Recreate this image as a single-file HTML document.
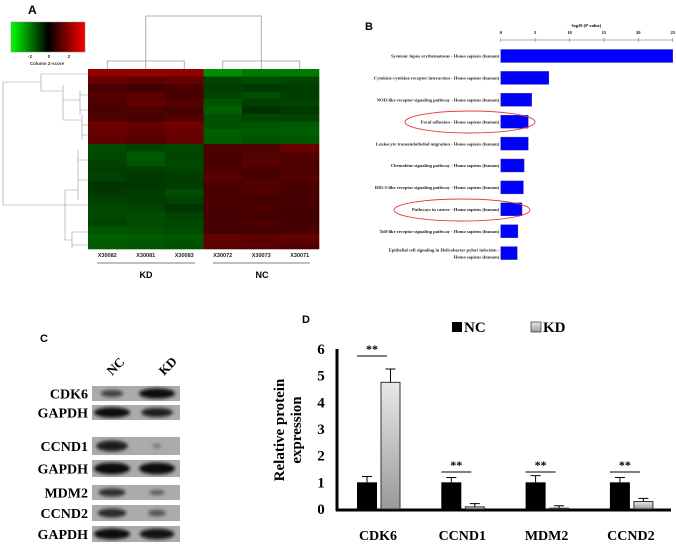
<!DOCTYPE html>
<html><head><meta charset="utf-8"><style>
body{margin:0;background:#fff;width:676px;height:547px;overflow:hidden}
svg{display:block}
.serif{font-family:"Liberation Serif",serif;font-weight:bold}
.sans{font-family:"Liberation Sans",sans-serif;font-weight:bold}
</style></head><body>
<svg id="fig" width="676" height="547" viewBox="0 0 676 547">
<defs>
<linearGradient id="zkey" x1="0" x2="1"><stop offset="0" stop-color="#00ff00"/><stop offset="0.5" stop-color="#000"/><stop offset="1" stop-color="#ff0000"/></linearGradient>
<linearGradient id="kdgrad" x1="0" x2="0" y1="0" y2="1"><stop offset="0" stop-color="#e8e8e8"/><stop offset="1" stop-color="#9a9a9a"/></linearGradient>
<filter id="blur" x="-30%" y="-60%" width="160%" height="220%"><feGaussianBlur stdDeviation="1.6"/></filter>
</defs>
<g id="panelA">
<text x="28" y="14" class="sans" font-size="12">A</text>
<rect x="11" y="22" width="74" height="30" fill="url(#zkey)" stroke="#888" stroke-width="0.5"/>
<g class="sans" font-size="4.5" fill="#333" text-anchor="middle">
<text x="30" y="58">-2</text><text x="49" y="58">0</text><text x="69" y="58">2</text>
<text x="47" y="65">Column Z-score</text></g>
<g id="coldendro" stroke="#999" stroke-width="0.8" fill="none"></g>
<g id="rowdendro" stroke="#999" stroke-width="0.6" fill="none"></g>
<g id="heat"></g>
<g id="heatlabels" class="sans" font-size="5.5" fill="#222" text-anchor="middle"></g>
<line x1="97" y1="263" x2="195" y2="263" stroke="#555" stroke-width="0.8"/>
<line x1="213" y1="263" x2="310" y2="263" stroke="#555" stroke-width="0.8"/>
<text x="146" y="278" class="sans" font-size="9" text-anchor="middle">KD</text>
<text x="262" y="278" class="sans" font-size="9" text-anchor="middle">NC</text>
</g>
<g id="panelB">
<text x="365" y="30" class="sans" font-size="11">B</text>
<text x="586" y="27" class="serif" font-size="4.5" text-anchor="middle">-log10 (P-value)</text>
<g id="bAxis"></g>
<g id="bBars"></g>
<ellipse cx="470" cy="122" rx="65" ry="11" fill="none" stroke="#e24040" stroke-width="0.9"/>
<ellipse cx="462" cy="210" rx="68" ry="11" fill="none" stroke="#e24040" stroke-width="0.9"/>
</g>
<g id="panelC">
<text x="40" y="342" class="sans" font-size="11">C</text>
<text class="serif" font-size="13" transform="translate(112,376) rotate(-45)">NC</text>
<text class="serif" font-size="13" transform="translate(164,376) rotate(-45)">KD</text>
<g id="blots"></g>
</g>
<g id="panelD">
<text x="302" y="323" class="sans" font-size="11">D</text>
<rect x="452" y="322" width="10" height="10" fill="#000"/>
<text x="464" y="332" class="serif" font-size="15">NC</text>
<rect x="531" y="322" width="10" height="10" fill="url(#kdgrad)" stroke="#444" stroke-width="0.8"/>
<text x="543" y="332" class="serif" font-size="15">KD</text>
<text class="serif" font-size="15" text-anchor="middle" transform="translate(284,430) rotate(-90)"><tspan x="0" y="0">Relative protein</tspan><tspan x="0" y="17">expression</tspan></text>
<g id="dChart"></g>
</g>
</svg>
<script>
// ---------- Panel A data ----------
const sampleLabels = ["X30082","X30081","X30083","X30072","X30073","X30071"];
// row z-scores (KD cols 1-3, NC cols 4-6), top to bottom
const heatRows = [
 [2.4,2.4,2.4,-2.6,-2.2,-2.2],
 [1.6,1.4,1.5,-1.0,-1.2,-1.1],
 [1.0,0.9,1.1,-0.9,-0.8,-0.9],
 [1.2,1.4,1.0,-1.0,-1.2,-0.9],
 [1.1,1.5,1.2,-1.4,-0.9,-1.0],
 [1.0,1.1,1.0,-1.6,-0.6,-0.8],
 [1.1,1.0,1.2,-1.3,-1.1,-1.0],
 [1.7,1.5,1.8,-1.3,-1.4,-1.5],
 [1.6,1.4,1.6,-1.6,-1.5,-1.6],
 [1.4,1.2,1.5,-1.5,-1.3,-1.4],
 [-1.2,-1.0,-1.1,1.1,1.1,1.6],
 [-1.1,-1.5,-1.0,1.0,1.2,1.2],
 [-1.0,-1.4,-1.1,1.0,1.3,1.1],
 [-0.9,-0.9,-1.0,1.1,1.0,1.1],
 [-1.0,-0.8,-0.9,1.3,1.0,1.2],
 [-0.7,-0.8,-0.9,1.0,1.2,1.0],
 [-0.8,-0.9,-1.2,1.0,1.1,1.0],
 [-1.0,-0.9,-1.0,1.0,0.9,1.0],
 [-1.1,-1.0,-0.7,1.0,1.0,0.9],
 [-1.1,-1.2,-1.0,0.9,0.9,0.9],
 [-1.0,-1.2,-1.1,1.0,1.1,0.9],
 [-1.4,-1.3,-1.2,0.9,1.0,1.0],
 [-1.6,-1.5,-1.4,1.5,1.4,1.5],
 [-1.5,-1.4,-1.3,1.4,1.3,1.2]
];
// ---------- Panel B data ----------
const pathways = ["Systemic lupus erythematosus - Homo sapiens (human)","Cytokine-cytokine receptor interaction - Homo sapiens (human)","NOD-like receptor signaling pathway - Homo sapiens (human)","Focal adhesion - Homo sapiens (human)","Leukocyte transendothelial migration - Homo sapiens (human)","Chemokine signaling pathway - Homo sapiens (human)","RIG-I-like receptor signaling pathway - Homo sapiens (human)","Pathways in cancer - Homo sapiens (human)","Toll-like receptor signaling pathway - Homo sapiens (human)","Epithelial cell signaling in Helicobacter pylori infection -|Homo sapiens (human)"];
const pathwayValues = [25,7.0,4.5,4.0,4.0,3.4,3.3,3.1,2.5,2.4];
const pathwayTicks = [0,5,10,15,20,25];
// ---------- Panel C data ----------
const blotLabels = ["CDK6","GAPDH","CCND1","GAPDH","MDM2","CCND2","GAPDH"];
const blotNC = [0.55,1.0,0.85,1.0,0.7,0.75,1.0];
const blotKD = [1.0,0.85,0.1,1.0,0.3,0.4,0.95];
// ---------- Panel D data ----------
const genes = ["CDK6","CCND1","MDM2","CCND2"];
const ncValues = [1,1,1,1];
const ncErr = [0.22,0.18,0.25,0.18];
const kdValues = [4.75,0.08,0.03,0.28];
const kdErr = [0.5,0.12,0.09,0.12];
const yTicks = [0,1,2,3,4,5,6];

const NS="http://www.w3.org/2000/svg";
function mk(tag,attrs,parent){const e=document.createElementNS(NS,tag);for(const k in attrs)e.setAttribute(k,attrs[k]);parent.appendChild(e);return e;}

// Panel A heatmap
(function(){
 const g=document.getElementById('heat');
 const x0=88,x1=319,y0=69,y1=249;
 const cw=(x1-x0)/sampleLabels.length, rh=(y1-y0)/heatRows.length;
 function col(z){const t=Math.max(-3,Math.min(3,z))/3;
  if(t>=0)return `rgb(${Math.round(20+255*t*0.62)},0,0)`;return `rgb(0,${Math.round(20-255*t*0.55)},0)`;}
 heatRows.forEach((row,i)=>row.forEach((z,j)=>{
  const r=mk('rect',{x:x0+j*cw,y:y0+i*rh,width:cw+0.3,height:rh+0.3,fill:col(z)},g);
  
  
 }));
 const lg=document.getElementById('heatlabels');
 sampleLabels.forEach((s,j)=>{const t=mk('text',{x:x0+(j+0.5)*cw,y:257},lg);t.textContent=s;
  
  });
 const cd=document.getElementById('coldendro');
 const cx=j=>x0+(j+0.5)*cw;
 mk('path',{d:`M${cx(0)},69V61H${cx(2)}V69 M${cx(1)},61V69 M${cx(3)},69V61H${cx(5)}V69 M${cx(4)},61V69 M${(cx(0)+cx(2))/2},61V16H${(cx(3)+cx(5))/2}V61`},cd);
 const rd=document.getElementById('rowdendro');
 mk('path',{d:"M41,74V91 M41,82H3V205H65 M41,74H60 M41,91H63 M65,190V240 M65,205H88 M65,190H78 M65,240H72 M63,85V120 M60,74H88 M63,100H80 M72,232H88 M72,245H88 M72,232V248 M78,150V200 M78,160H88 M78,180H88 M80,90V115 M80,95H88 M80,110H88 M63,120H82 M82,115V140 M82,125H88 M82,135H88"},rd);
})();

// Panel B
(function(){
 const x0=500.7,x1=672.7,vmax=25;
 const sx=v=>x0+(x1-x0)*v/vmax;
 const ax=document.getElementById('bAxis');
 mk('line',{x1:x0,y1:40,x2:x1,y2:40,stroke:'#666','stroke-width':0.6},ax);
 pathwayTicks.forEach(t=>{mk('line',{x1:sx(t),y1:38,x2:sx(t),y2:42,stroke:'#666','stroke-width':0.5},ax);
  const tx=mk('text',{x:sx(t),y:34,'font-size':4.5,'text-anchor':'middle',class:'serif'},ax);tx.textContent=t;});
 const g=document.getElementById('bBars');
 pathwayValues.forEach((v,i)=>{const yc=56+i*21.9;
  const r=mk('rect',{x:x0,y:yc-6.5,width:sx(v)-x0,height:13,fill:'#0000ff',stroke:'#3a3a8a','stroke-width':0.4},g);
  
  
  const parts=pathways[i].split('|');
  parts.forEach((p,k)=>{const t=mk('text',{x:x0-1.5,y:yc+1.7+(parts.length>1?(k-0.5)*7:0),'font-size':4.6,'text-anchor':'end',class:'serif',fill:'#222'},g);t.textContent=p;
   
   });
 });
})();

// Panel C
(function(){
 const g=document.getElementById('blots');
 const rows=[[386,401],[405,420],[437,455],[460,477],[485,500],[505,521],[526,542]];
 blotLabels.forEach((lab,i)=>{const [a,b]=rows[i];
  const bg=mk('rect',{x:92,y:a,width:88,height:b-a,fill:'#ababab'},g);
  
  
  const h=(b-a);
  [[112,blotNC[i]],[157,blotKD[i]]].forEach(([cx,s])=>{
   mk('ellipse',{cx:cx,cy:(a+b)/2,rx:3+15*s,ry:h*(0.1+0.24*s),fill:'#0a0a0a',opacity:0.25+0.75*s,filter:'url(#blur)'},g);});
  const t=mk('text',{x:88,y:(a+b)/2+5,'font-size':14,'text-anchor':'end',class:'serif'},g);t.textContent=lab;
  
  
 });
})();

// Panel D
(function(){
 const g=document.getElementById('dChart');
 const ax=337,ay0=509,ay1=349,axEnd=671,ymax=6;
 const sy=v=>ay0-(ay0-ay1)*v/ymax;
 const gx=i=>367+i*84.3;
 mk('line',{x1:ax,y1:ay1,x2:ax,y2:ay0+2,stroke:'#000','stroke-width':3},g);
 mk('line',{x1:ax-1,y1:ay0+1,x2:axEnd,y2:ay0+1,stroke:'#000','stroke-width':3},g);
 yTicks.forEach(t=>{const tx=mk('text',{x:321,y:sy(t)+5,'font-size':15,'text-anchor':'middle',class:'serif'},g);tx.textContent=t;
  
  });
 genes.forEach((gn,i)=>{
  const nx=gx(i)-10, kx=gx(i)+14;
  const nb=mk('rect',{x:nx,y:sy(ncValues[i]),width:20,height:sy(0)-sy(ncValues[i]),fill:'#000'},g);
  
  
  mk('path',{d:`M${nx+10},${sy(ncValues[i])}V${sy(ncValues[i]+ncErr[i])}M${nx+5},${sy(ncValues[i]+ncErr[i])}H${nx+15}`,stroke:'#000','stroke-width':1},g);
  const kb=mk('rect',{x:kx,y:sy(kdValues[i]),width:19,height:Math.max(0.5,sy(0)-sy(kdValues[i])),fill:'url(#kdgrad)',stroke:'#333','stroke-width':1},g);
  
  
  mk('path',{d:`M${kx+9.5},${sy(kdValues[i])}V${sy(kdValues[i]+kdErr[i])}M${kx+4.5},${sy(kdValues[i]+kdErr[i])}H${kx+14.5}`,stroke:'#000','stroke-width':1},g);
  const ly=i===0?356:472;
  mk('line',{x1:gx(i)-10,y1:ly,x2:gx(i)+20,y2:ly,stroke:'#000','stroke-width':1},g);
  const st=mk('text',{x:gx(i)+5,y:ly-3,'font-size':12,'text-anchor':'middle',class:'serif'},g);st.textContent='**';
  
  
  const cl=mk('text',{x:gx(i)+11,y:540,'font-size':14,'text-anchor':'middle',class:'serif'},g);cl.textContent=gn;
  
  
 });
})();
</script>
</body></html>
